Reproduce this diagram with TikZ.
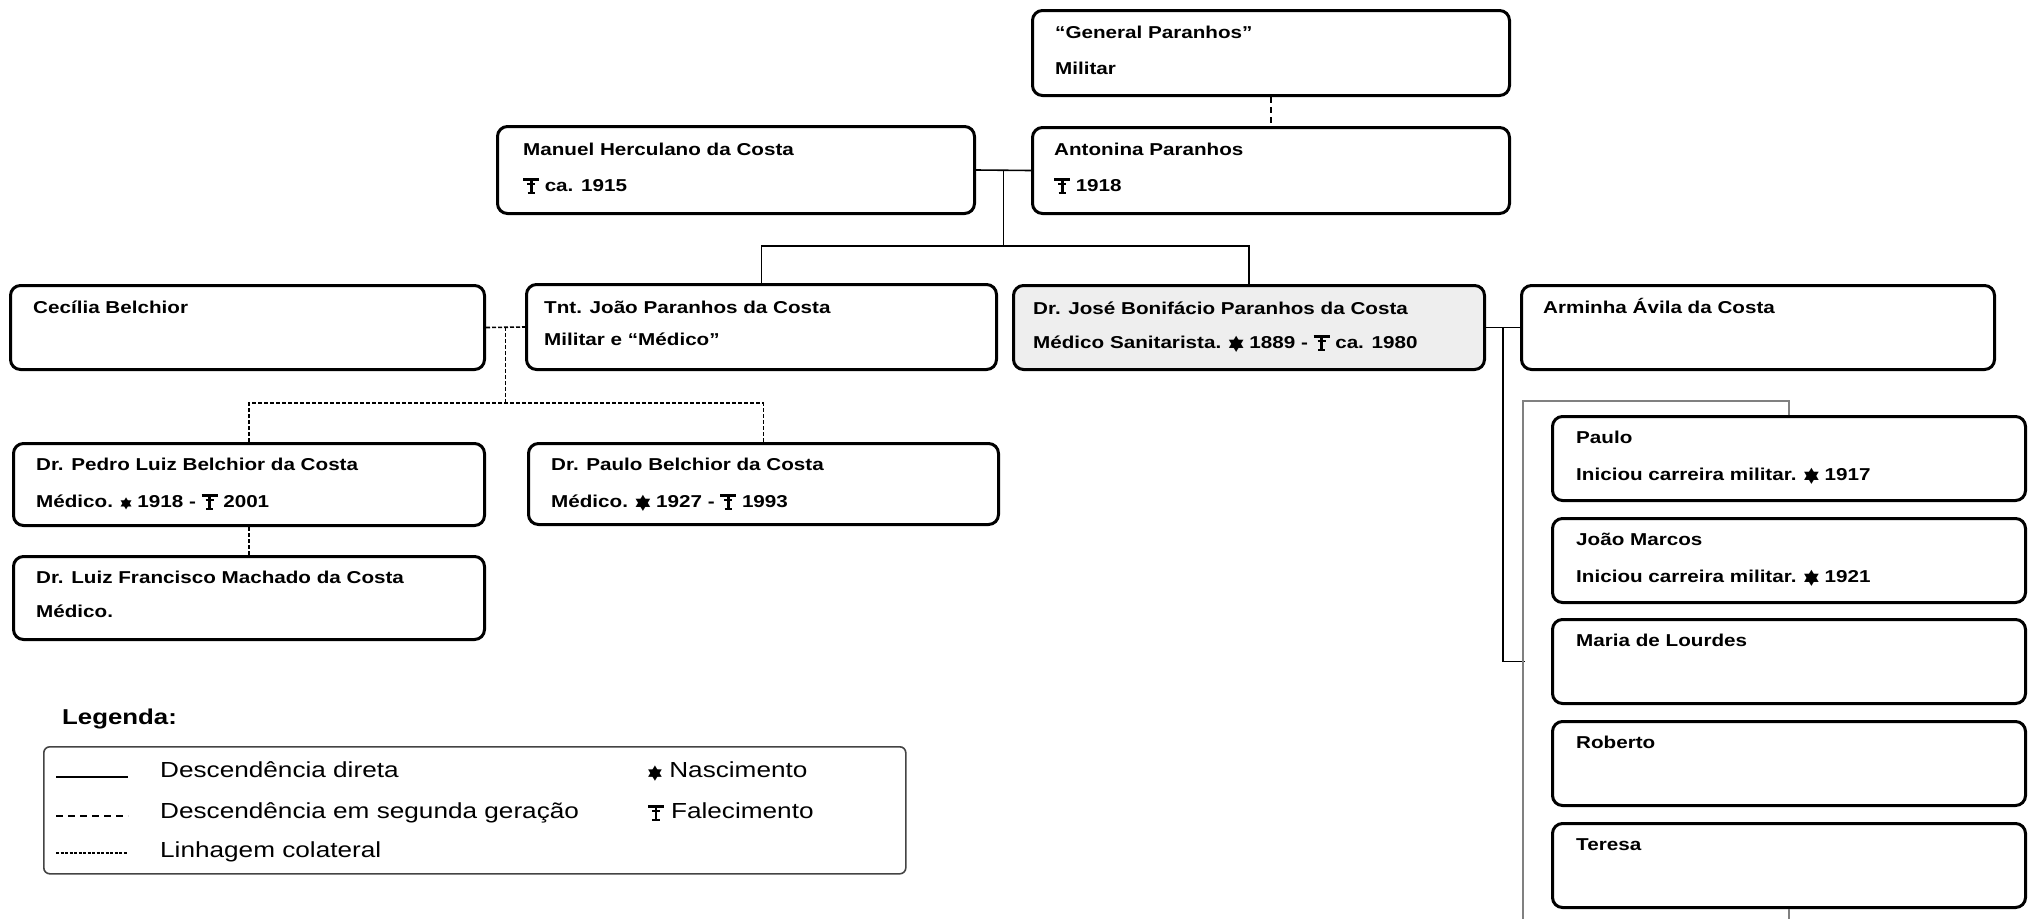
\documentclass[tikz,border=0pt]{standalone}
\usepackage{fontspec}
\setmainfont{Liberation Sans}[FakeStretch=1.2]
\newfontfamily\symf{DejaVu Sans}[FakeStretch=1.2]
\usetikzlibrary{calc}
\definecolor{boxfill}{HTML}{EEEEEE}
\definecolor{lnkgray}{HTML}{808080}
\definecolor{legframe}{HTML}{444444}
% birth mark: a filled six-pointed star made of two triangles
\newcommand\nasc[1][16]{\mbox{\symf\mdseries\fontsize{#1}{#1}\selectfont
  \raisebox{0.12em}{\rlap{▲}\raisebox{-0.257em}{▼}}}}
% death mark: a cross with a broad head bar, a short cross bar and a foot
\newcommand\falec{\mbox{%
  \rlap{\rule[0.60em]{0.92em}{0.14em}}%
  \rlap{\hspace{0.375em}\rule[-0.12em]{0.17em}{0.76em}}%
  \rlap{\hspace{0.23em}\rule[0.36em]{0.46em}{0.09em}}%
  \rlap{\hspace{0.25em}\rule[-0.15em]{0.42em}{0.08em}}%
  \hspace{0.92em}}}
\tikzset{
  pbox/.style={draw=black, line width=3pt, rounded corners=10pt, anchor=north west,
               inner sep=0pt, fill=white},
  ptext/.style={anchor=base west, inner sep=0pt, font=\fontsize{17.2}{20}\selectfont\bfseries},
  conn/.style={line width=1.6pt, black},
  gen2/.style={conn, dash pattern=on 6pt off 4pt},
  coll/.style={conn, dash pattern=on 4pt off 2pt},
  glink/.style={line width=2pt, lnkgray},
  legtext/.style={anchor=base west, inner sep=0pt, font=\fontsize{21.8}{24}\selectfont},
}
\begin{document}
\begin{tikzpicture}[x=1pt,y=-1pt]
\useasboundingbox (0,0) rectangle (2031,919);

% ---- generation 1
\node[pbox, minimum width=477pt, minimum height=85pt] (gen) at (1031,9) {};
\node[ptext] (gen-a) at ($(gen.north west)+(24,29)$) {“General Paranhos”};
\node[ptext] (gen-b) at ($(gen.north west)+(24,65)$) {Militar};

\node[pbox, minimum width=477pt, minimum height=86pt] (ant) at (1031,126) {};
\node[ptext] (ant-a) at ($(ant.north west)+(23,29)$) {Antonina Paranhos};
\node[ptext] (ant-b) at ($(ant.north west)+(23,65)$) {\falec\ 1918};

\node[pbox, minimum width=477pt, minimum height=87pt] (man) at (496,125) {};
\node[ptext] (man-a) at ($(man.north west)+(27,30)$) {Manuel Herculano da Costa};
\node[ptext] (man-b) at ($(man.north west)+(27,66)$) {\falec\ ca. 1915};

% ---- generation 2
\node[pbox, minimum width=474pt, minimum height=84pt] (cec) at (9,284) {};
\node[ptext] (cec-a) at ($(cec.north west)+(24,29)$) {Cecília Belchior};

\node[pbox, minimum width=470pt, minimum height=85pt] (joao) at (525,283) {};
\node[ptext] (joao-a) at ($(joao.north west)+(19,30)$) {Tnt. João Paranhos da Costa};
\node[ptext] (joao-b) at ($(joao.north west)+(19,62)$) {Militar e “Médico”};

\node[pbox, fill=boxfill, minimum width=471pt, minimum height=84pt] (jose) at (1012,284) {};
\node[ptext] (jose-a) at ($(jose.north west)+(21,30)$) {Dr. José Bonifácio Paranhos da Costa};
\node[ptext] (jose-b) at ($(jose.north west)+(21,64)$) {Médico Sanitarista. \nasc\ 1889 - \falec\ ca. 1980};

\node[pbox, minimum width=473pt, minimum height=84pt] (arm) at (1520,284) {};
\node[ptext] (arm-a) at ($(arm.north west)+(23,29)$) {Arminha Ávila da Costa};

% ---- generation 3 (Belchior line)
\node[pbox, minimum width=471pt, minimum height=82pt] (pedro) at (12,442) {};
\node[ptext] (pedro-a) at ($(pedro.north west)+(24,28)$) {Dr. Pedro Luiz Belchior da Costa};
\node[ptext] (pedro-b) at ($(pedro.north west)+(24,65)$) {Médico. \nasc[12] 1918 - \falec\ 2001};

\node[pbox, minimum width=470pt, minimum height=81pt] (pab) at (527,442) {};
\node[ptext] (pab-a) at ($(pab.north west)+(24,28)$) {Dr. Paulo Belchior da Costa};
\node[ptext] (pab-b) at ($(pab.north west)+(24,65)$) {Médico. \nasc\ 1927 - \falec\ 1993};

\node[pbox, minimum width=471pt, minimum height=83pt] (luiz) at (12,555) {};
\node[ptext] (luiz-a) at ($(luiz.north west)+(24,28)$) {Dr. Luiz Francisco Machado da Costa};
\node[ptext] (luiz-b) at ($(luiz.north west)+(24,62)$) {Médico.};

% ---- generation 3 (children of José and Arminha)
\node[pbox, minimum width=473pt, minimum height=84pt] (paulo) at (1551,415) {};
\node[ptext] (paulo-a) at ($(paulo.north west)+(25,28)$) {Paulo};
\node[ptext] (paulo-b) at ($(paulo.north west)+(25,65)$) {Iniciou carreira militar. \nasc\ 1917};

\node[pbox, minimum width=473pt, minimum height=84pt] (jm) at (1551,517) {};
\node[ptext] (jm-a) at ($(jm.north west)+(25,28)$) {João Marcos};
\node[ptext] (jm-b) at ($(jm.north west)+(25,65)$) {Iniciou carreira militar. \nasc\ 1921};

\node[pbox, minimum width=473pt, minimum height=84pt] (maria) at (1551,618) {};
\node[ptext] (maria-a) at ($(maria.north west)+(25,28)$) {Maria de Lourdes};

\node[pbox, minimum width=473pt, minimum height=84pt] (rob) at (1551,720) {};
\node[ptext] (rob-a) at ($(rob.north west)+(25,28)$) {Roberto};

\node[pbox, minimum width=473pt, minimum height=84pt] (ter) at (1551,822) {};
\node[ptext] (ter-a) at ($(ter.north west)+(25,28)$) {Teresa};

% ---- connectors
\draw[gen2] (gen.south) -- (ant.north);

\draw[conn] (man.east) -- (ant.west);
\coordinate (mar1) at ($(man.east)!0.5!(ant.west)$);
\coordinate (kids1) at ($(mar1)+(0,76)$);
\draw[conn] (mar1) -- (kids1);
\draw[conn] (joao.north) |- (kids1) -| (jose.north);

\draw[coll] (cec.east) -- (joao.west);
\coordinate (mar2) at ($(cec.east)!0.5!(joao.west)$);
\coordinate (kids2) at ($(mar2)+(0,76)$);
\draw[coll] (mar2) -- (kids2);
\draw[coll] (pedro.north) |- (kids2) -| (pab.north);
\draw[coll] (pedro.south) -- (luiz.north);

\draw[conn] (jose.east) -- (arm.west);
\coordinate (mar3) at ($(jose.east)!0.5!(arm.west)$);
\coordinate (mlink) at ($(maria.west)+(-26,0)$);
\draw[conn] (mar3) |- (mlink);

\coordinate (gtop) at ($(paulo.north)+(0,-14)$);
\coordinate (gbot) at (1523,919);
\draw[glink] (paulo.north) -- (gtop) -| (gbot);
\draw[glink, line width=2.6pt] (ter.south) -- (ter.south |- gbot);

% ---- legend
\node[anchor=base west, inner sep=0pt, font=\fontsize{21.5}{24}\selectfont\bfseries] (legtit) at (62,724) {Legenda:};
\node[draw=legframe, line width=1.6pt, rounded corners=6pt, anchor=north west, inner sep=0pt,
      minimum width=862pt, minimum height=127pt] (legbox) at (43,746) {};

\coordinate (s1a) at (56,777); \coordinate (s1b) at (128,777);
\coordinate (s2a) at (56,816); \coordinate (s2b) at (128,816);
\coordinate (s3a) at (56,853); \coordinate (s3b) at (128,853);
\draw[line width=2pt] (s1a) -- (s1b);
\draw[line width=1.6pt, dash pattern=on 7pt off 5pt] (s2a) -- (s2b);
\draw[line width=1.5pt, dash pattern=on 3pt off 1.5pt] (s3a) -- (s3b);

\node[legtext] (lg1) at (160,777) {Descendência direta};
\node[legtext] (lg2) at (160,818) {Descendência em segunda geração};
\node[legtext] (lg3) at (160,857) {Linhagem colateral};
\node[legtext] (lg4) at (648,777) {\nasc[15] Nascimento};
\node[legtext] (lg5) at (648,818) {{\fontsize{17}{19}\selectfont\falec} Falecimento};
\end{tikzpicture}
\end{document}
